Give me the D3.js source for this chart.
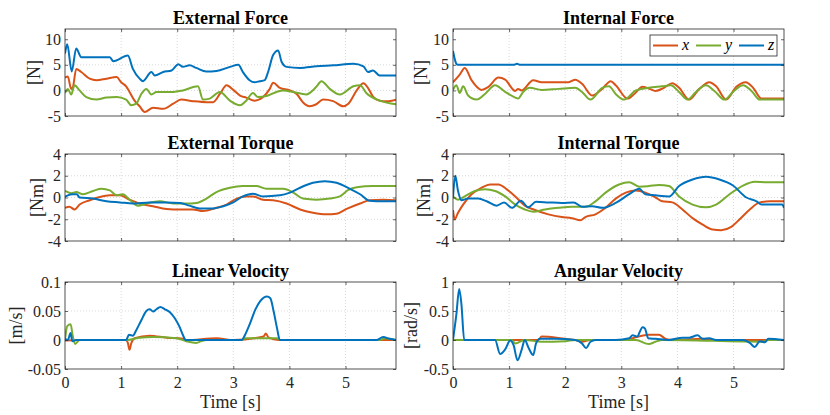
<!DOCTYPE html>
<html>
<head>
<meta charset="utf-8">
<script src="https://cdn.jsdelivr.net/npm/d3@7"></script>
<style>
  body { margin: 0; background: #fff; }
  svg text { font-family: "Liberation Serif", "Times New Roman", serif; }
</style>
</head>
<body>
<div id="chart"></div>
<script>
const W = 830, H = 415;

// series are [time (s), value] pairs
const extForceX = [[0,2.5],[0.05,2.7],[0.11,0.3],[0.14,0.6],[0.2,4.2],[0.29,3.6],[0.44,2.3],[0.56,2.0],[0.74,2.3],[0.92,2.6],[1.0,1.6],[1.09,0.8],[1.15,-0.3],[1.24,-2.0],[1.33,-3.1],[1.42,-4.2],[1.57,-3.4],[1.75,-3.6],[1.93,-2.6],[2.07,-1.8],[2.28,-2.1],[2.52,-2.3],[2.64,-2.3],[2.76,-0.7],[2.88,1.0],[3.0,0.1],[3.12,-1.0],[3.23,-1.4],[3.38,-2.0],[3.53,-1.3],[3.65,0.3],[3.71,1.5],[3.83,0.5],[4.01,0],[4.13,-0.7],[4.24,-2.3],[4.36,-3.1],[4.48,-2.7],[4.6,-1.8],[4.78,-2.1],[4.96,-3.1],[5.05,-2.6],[5.2,0],[5.32,1.4],[5.4,0.5],[5.49,-1.2],[5.61,-2.0],[5.73,-2.1],[5.9,-1.8]];
const extForceY = [[0,-0.5],[0.05,0.3],[0.11,-0.8],[0.17,1.0],[0.26,0],[0.38,-1.3],[0.56,-1.8],[0.74,-1.4],[0.92,-1.3],[1.09,-1.8],[1.18,-2.9],[1.27,-2.6],[1.36,-0.7],[1.45,0.3],[1.54,-0.8],[1.63,-0.3],[1.93,-0.3],[2.1,0],[2.37,0.8],[2.46,-1.8],[2.58,-1.6],[2.76,-0.3],[2.94,-2.0],[3.12,-2.9],[3.23,-2.0],[3.35,-0.5],[3.44,-1.3],[3.59,-1.1],[3.77,-0.3],[3.89,0],[4.07,-0.3],[4.3,-0.8],[4.48,0.7],[4.57,1.8],[4.72,0.3],[4.9,-0.8],[5.14,0.8],[5.26,1.0],[5.37,-0.5],[5.61,-2.0],[5.9,-2.7]];
const extForceZ = [[0,7.2],[0.04,9.0],[0.12,3.7],[0.2,8.2],[0.29,6.5],[0.8,6.5],[0.86,5.7],[1.12,6.8],[1.21,4.2],[1.33,2.3],[1.39,1.8],[1.54,3.6],[1.6,2.9],[1.75,3.6],[1.9,3.9],[2.02,5.1],[2.1,4.6],[2.22,4.9],[2.34,4.4],[2.52,3.7],[2.7,3.8],[2.94,4.6],[3.09,5.0],[3.17,3.6],[3.29,2.0],[3.38,1.6],[3.47,1.8],[3.56,2.0],[3.62,3.6],[3.71,6.9],[3.8,7.8],[3.86,5.6],[3.95,4.6],[4.19,4.4],[4.48,4.7],[4.78,4.9],[5.14,5.2],[5.32,4.7],[5.4,3.6],[5.49,3.9],[5.61,2.9],[5.9,2.9]];

const intForceX = [[0,1.6],[0.12,3.1],[0.21,4.4],[0.33,2.0],[0.51,0.1],[0.63,0.7],[0.81,2.5],[0.93,2.1],[1.11,-0.1],[1.16,0.3],[1.22,0],[1.43,2.0],[1.58,1.6],[1.82,1.6],[2.06,1.6],[2.18,2.1],[2.3,1.3],[2.48,-1.0],[2.66,0.3],[2.81,1.8],[2.9,1.0],[3.11,-1.6],[3.23,-0.7],[3.38,0.7],[3.55,0.1],[3.61,-0.1],[3.76,0.5],[3.91,1.4],[4.03,0.5],[4.21,-1.8],[4.39,0.3],[4.57,1.6],[4.69,0.8],[4.87,-1.8],[5.05,0.7],[5.22,1.6],[5.35,0.5],[5.5,-1.6],[5.9,-1.6]];
const intForceY = [[0,0.1],[0.06,1.0],[0.12,-0.5],[0.18,0.8],[0.27,-1.0],[0.42,-1.8],[0.57,-0.7],[0.75,1.0],[0.93,-0.3],[1.11,-1.4],[1.16,-1.6],[1.25,-0.3],[1.37,0.5],[1.58,0.1],[1.88,0.3],[2.18,0.5],[2.3,-0.3],[2.45,-1.8],[2.66,0.5],[2.78,0.8],[2.9,-0.7],[3.05,-1.8],[3.26,0],[3.49,0.5],[3.73,0.8],[3.88,1.0],[4.03,-0.3],[4.18,-1.8],[4.33,-0.3],[4.51,1.0],[4.66,-0.1],[4.84,-1.8],[4.99,-0.3],[5.17,1.0],[5.32,-0.1],[5.47,-1.8],[5.9,-1.8]];
const intForceZ = [[0,7.7],[0.06,5.2],[0.09,5.0],[1.08,5.0],[1.14,5.2],[1.2,5.0],[5.9,5.0]];

const extTorqueX = [[0,-0.95],[0.08,-0.85],[0.17,-1.1],[0.26,-0.65],[0.44,-0.25],[0.62,0.05],[0.8,0.2],[0.98,0.2],[1.15,-0.2],[1.33,-0.55],[1.57,-0.8],[1.81,-1.05],[2.05,-1.1],[2.28,-1.1],[2.46,-1.25],[2.7,-0.95],[2.88,-0.65],[3.06,-0.1],[3.23,0.1],[3.35,0.1],[3.53,-0.2],[3.71,-0.25],[3.95,-0.55],[4.19,-1.1],[4.42,-1.4],[4.66,-1.55],[4.84,-1.5],[5.02,-1.05],[5.26,-0.55],[5.43,-0.25],[5.67,-0.2],[5.9,-0.25]];
const extTorqueY = [[0,0.6],[0.11,0.4],[0.2,0.5],[0.32,0.3],[0.5,0.6],[0.65,0.8],[0.8,0.65],[0.92,0.2],[1.03,0.3],[1.15,-0.2],[1.3,-0.75],[1.45,-0.55],[1.69,-0.35],[1.93,-0.55],[2.16,-0.55],[2.34,-0.5],[2.52,-0.1],[2.7,0.5],[2.94,0.9],[3.17,1.05],[3.41,1.05],[3.59,0.8],[3.89,0.8],[4.07,0.45],[4.24,-0.1],[4.48,-0.2],[4.72,-0.1],[4.9,0.1],[5.05,0.7],[5.2,0.95],[5.49,1.05],[5.9,1.05]];
const extTorqueZ = [[0,0.05],[0.05,0.2],[0.14,0.3],[0.21,0.3],[0.26,0],[0.5,-0.1],[0.74,-0.35],[0.98,-0.45],[1.21,-0.55],[1.51,-0.45],[1.81,-0.45],[2.05,-0.5],[2.22,-0.75],[2.4,-1.0],[2.64,-1.0],[2.82,-0.8],[3.0,-0.45],[3.17,0.1],[3.35,0.35],[3.53,0.1],[3.83,0.2],[4.01,0.45],[4.19,0.9],[4.42,1.35],[4.63,1.5],[4.84,1.35],[5.08,0.8],[5.26,0.3],[5.43,-0.3],[5.67,-0.35],[5.9,-0.35]];

const intTorqueX = [[0,-1.15],[0.03,-2.0],[0.09,-1.4],[0.18,-0.65],[0.33,0.3],[0.51,0.9],[0.66,1.2],[0.81,1.2],[0.96,0.75],[1.11,0.1],[1.28,-0.75],[1.46,-1.15],[1.7,-1.55],[1.94,-1.8],[2.12,-1.9],[2.27,-2.1],[2.36,-1.8],[2.54,-1.55],[2.72,-0.95],[2.9,-0.1],[3.08,0.45],[3.26,0.65],[3.43,0.45],[3.61,0],[3.73,-0.35],[3.91,-0.45],[4.09,-1.1],[4.27,-1.9],[4.45,-2.5],[4.63,-2.95],[4.78,-3.0],[4.96,-2.7],[5.11,-2.0],[5.29,-1.1],[5.47,-0.45],[5.65,-0.35],[5.9,-0.35]];
const intTorqueY = [[0,0.1],[0.09,-0.2],[0.21,0.1],[0.39,0.6],[0.57,0.75],[0.75,0.6],[0.93,0.1],[1.11,-0.65],[1.28,-1.1],[1.43,-1.3],[1.64,-1.1],[1.88,-0.95],[2.12,-0.85],[2.36,-0.85],[2.54,-0.35],[2.72,0.45],[2.96,1.2],[3.14,1.4],[3.32,1.0],[3.49,1.05],[3.67,1.15],[3.85,1.05],[4.03,0.1],[4.27,-0.65],[4.51,-0.9],[4.69,-0.65],[4.93,0.3],[5.17,1.1],[5.38,1.45],[5.59,1.4],[5.9,1.4]];
const intTorqueZ = [[0,0],[0.04,2.0],[0.09,0.6],[0.15,-0.25],[0.27,-0.1],[0.45,-0.1],[0.6,-0.35],[0.78,-0.75],[0.91,-0.45],[1.05,-0.95],[1.21,-0.3],[1.34,-0.9],[1.48,-0.4],[1.7,-0.45],[1.94,-0.5],[2.15,-0.45],[2.3,-0.85],[2.48,-0.8],[2.66,-0.95],[2.9,-0.5],[3.14,0.3],[3.32,0.8],[3.43,0.3],[3.61,0.2],[3.85,0.1],[4.03,1.05],[4.27,1.65],[4.51,1.9],[4.75,1.65],[4.99,1.1],[5.23,0],[5.41,-0.35],[5.5,-0.65],[5.76,-0.65],[5.87,-0.65],[5.9,-0.95]];

const linVelX = [[0,-0.001],[0.26,0],[1.09,0],[1.12,-0.005],[1.15,-0.017],[1.18,-0.006],[1.24,0.003],[1.51,0.0075],[1.81,0.004],[2.1,0.002],[2.16,0],[2.7,0.003],[3.0,0],[3.54,0.006],[3.58,0.011],[3.63,0.004],[3.81,0],[5.9,0]];
const linVelY = [[0,0],[0.04,0.024],[0.1,0.027],[0.14,0.006],[0.18,-0.007],[0.26,0],[1.12,0],[1.33,0.004],[1.57,0.005],[1.99,0.003],[2.16,-0.002],[2.34,-0.005],[2.43,-0.002],[2.52,0],[3.15,0],[3.21,0.003],[3.78,0.003],[3.83,0],[5.61,0],[5.7,0.003],[5.9,0]];
const linVelZ = [[0,0.002],[0.05,0],[0.1,0.012],[0.13,-0.002],[0.2,0],[1.09,0],[1.14,0.009],[1.21,0.0075],[1.27,0.017],[1.36,0.034],[1.45,0.05],[1.51,0.053],[1.57,0.049],[1.63,0.053],[1.7,0.057],[1.78,0.053],[1.87,0.048],[1.96,0.037],[2.04,0.023],[2.1,0.009],[2.15,0],[3.15,0],[3.21,0.009],[3.3,0.029],[3.39,0.052],[3.48,0.067],[3.6,0.075],[3.66,0.072],[3.72,0.049],[3.78,0.02],[3.83,0],[5.55,0],[5.67,0.005],[5.79,0.002],[5.9,0]];

const angVelX = [[0,0],[1.52,0],[1.58,0.06],[2.0,0.02],[2.18,0],[2.3,-0.03],[2.45,0],[3.02,0],[3.49,0.09],[3.67,0.09],[3.79,0.02],[3.91,0],[4.45,0.02],[4.63,0],[5.9,0]];
const angVelY = [[0,0],[1.05,0],[1.11,-0.06],[1.28,0],[1.58,-0.03],[2.0,-0.02],[2.18,0],[3.26,0],[3.49,-0.07],[3.61,-0.03],[3.73,0],[5.53,-0.03],[5.62,0],[5.9,0]];
const angVelZ = [[0,0],[0.06,0.44],[0.11,0.88],[0.15,0.62],[0.2,0],[0.75,0],[0.84,-0.24],[0.93,-0.16],[1.02,-0.01],[1.08,-0.09],[1.15,-0.35],[1.22,-0.18],[1.28,0],[1.34,-0.12],[1.43,-0.26],[1.48,-0.06],[1.55,0.02],[1.82,0.02],[2.18,0],[2.3,-0.06],[2.37,-0.14],[2.45,-0.03],[2.54,0],[2.9,0],[3.14,0.03],[3.2,0.08],[3.29,0.06],[3.32,0.12],[3.38,0.22],[3.42,0.2],[3.48,0.03],[3.61,0.02],[3.85,0],[4.09,0.04],[4.21,0.04],[4.36,0.08],[4.45,0.02],[4.57,0.03],[4.69,0],[5.17,0],[5.29,-0.05],[5.38,-0.12],[5.47,-0.02],[5.56,-0.04],[5.62,0.02],[5.9,0]];

const seriesNames = ["x", "y", "z"];
const colors = ["#D95319", "#77AC30", "#0072BD"];
const timeDomain = [0, 5.9];
const timeTicks = [0, 1, 2, 3, 4, 5];

const titles = ["External Force", "Internal Force", "External Torque", "Internal Torque", "Linear Velocity", "Angular Velocity"];
const yLabels = ["[N]", "[N]", "[Nm]", "[Nm]", "[m/s]", "[rad/s]"];
const yDomains = [[-5, 12], [-5, 12], [-4, 4], [-4, 4], [-0.05, 0.1], [-0.5, 1]];
const yTicks = [[-5, 0, 5, 10], [-5, 0, 5, 10], [-4, -2, 0, 2, 4], [-4, -2, 0, 2, 4], [-0.05, 0, 0.05, 0.1], [-0.5, 0, 0.5, 1]];
const panelData = [
  [extForceX, extForceY, extForceZ],
  [intForceX, intForceY, intForceZ],
  [extTorqueX, extTorqueY, extTorqueZ],
  [intTorqueX, intTorqueY, intTorqueZ],
  [linVelX, linVelY, linVelZ],
  [angVelX, angVelY, angVelZ]
];

// layout
const colLeft = [65, 453];
const rowTop = [29, 154, 282];
const pw = 331, ph = 87;
const ylabOff = [31, 32, 28, 29, 49, 42];
const axisColor = "#262626";
const serif = '"Liberation Serif", "Times New Roman", serif';

const svg = d3.select("#chart").append("svg")
  .attr("width", W)
  .attr("height", H);

titles.forEach((title, i) => {
  const col = i % 2, row = Math.floor(i / 2);
  const g = svg.append("g")
    .attr("transform", "translate(" + colLeft[col] + "," + rowTop[row] + ")");

  const x = d3.scaleLinear().domain(timeDomain).range([0, pw]);
  const y = d3.scaleLinear().domain(yDomains[i]).range([ph, 0]);

  // grid
  g.append("g").selectAll("line").data(timeTicks.filter(t => t > 0)).join("line")
    .attr("x1", d => x(d)).attr("x2", d => x(d))
    .attr("y1", 0).attr("y2", ph)
    .attr("stroke", "#cfcfcf").attr("stroke-width", 0.8)
    .attr("stroke-dasharray", "1,2");
  g.append("g").selectAll("line").data(yTicks[i].slice(1, -1)).join("line")
    .attr("x1", 0).attr("x2", pw)
    .attr("y1", d => y(d)).attr("y2", d => y(d))
    .attr("stroke", "#cfcfcf").attr("stroke-width", 0.8)
    .attr("stroke-dasharray", "1,2");

  // lines
  const clipId = "clip" + i;
  g.append("clipPath").attr("id", clipId)
    .append("rect").attr("width", pw).attr("height", ph);

  const line = d3.line()
    .x(d => x(d[0]))
    .y(d => y(d[1]))
    .curve(d3.curveMonotoneX);

  g.append("g").attr("clip-path", "url(#" + clipId + ")")
    .selectAll("path").data(panelData[i]).join("path")
    .attr("d", d => line(d))
    .attr("fill", "none")
    .attr("stroke", (d, k) => colors[k])
    .attr("stroke-width", 2)
    .attr("stroke-linejoin", "round");

  // axes (ticks inward, on all sides)
  g.append("g")
    .call(d3.axisLeft(y).tickValues(yTicks[i]).tickSize(-3).tickPadding(4).tickFormat(d => String(d)));
  g.append("g").attr("transform", "translate(" + pw + ",0)")
    .call(d3.axisRight(y).tickValues(yTicks[i]).tickSize(-3).tickFormat(""));
  g.append("g").attr("transform", "translate(0," + ph + ")")
    .call(d3.axisBottom(x).tickValues(timeTicks).tickSize(-3).tickPadding(8)
      .tickFormat(row === 2 ? d => String(d) : ""));
  g.append("g")
    .call(d3.axisTop(x).tickValues(timeTicks).tickSize(-3).tickFormat(""));

  g.selectAll(".domain").remove();
  g.selectAll(".tick line").attr("stroke", axisColor).attr("stroke-width", 0.7);
  g.selectAll(".tick").select(function() { return this.parentNode; })
    .attr("font-family", serif)
    .attr("font-size", 16);
  g.selectAll(".tick text")
    .attr("fill", axisColor);

  g.append("rect")
    .attr("width", pw).attr("height", ph)
    .attr("fill", "none")
    .attr("stroke", axisColor).attr("stroke-width", 0.8);

  // title & labels
  g.append("text")
    .attr("x", pw / 2).attr("y", -5)
    .attr("text-anchor", "middle")
    .style("font-size", "18px")
    .style("font-weight", "bold")
    .text(title);

  g.append("text")
    .attr("transform", "translate(" + (-ylabOff[i]) + "," + (ph / 2) + ") rotate(-90)")
    .attr("text-anchor", "middle")
    .attr("dy", "0.32em")
    .attr("fill", axisColor)
    .style("font-size", "18px")
    .text(yLabels[i]);

  if (row === 2) {
    g.append("text")
      .attr("x", pw / 2).attr("y", ph + 39)
      .attr("text-anchor", "middle")
      .attr("fill", axisColor)
      .style("font-size", "18px")
      .text("Time [s]");
  }

  // legend in Internal Force
  if (i === 1) {
    const lg = g.append("g").attr("transform", "translate(" + (650 - colLeft[1]) + ",6)");
    lg.append("rect")
      .attr("width", 127).attr("height", 21)
      .attr("fill", "#fff")
      .attr("stroke", axisColor).attr("stroke-width", 0.8);
    const items = lg.selectAll("g").data(seriesNames).join("g")
      .attr("transform", (d, k) => "translate(" + (3 + k * 43) + ",0)");
    items.append("line")
      .attr("x1", 0).attr("x2", 25)
      .attr("y1", 10.5).attr("y2", 10.5)
      .attr("stroke", (d, k) => colors[k])
      .attr("stroke-width", 2);
    items.append("text")
      .attr("x", 29).attr("y", 15)
      .style("font-size", "16px")
      .style("font-style", "italic")
      .text(d => d);
  }
});
</script>
</body>
</html>
